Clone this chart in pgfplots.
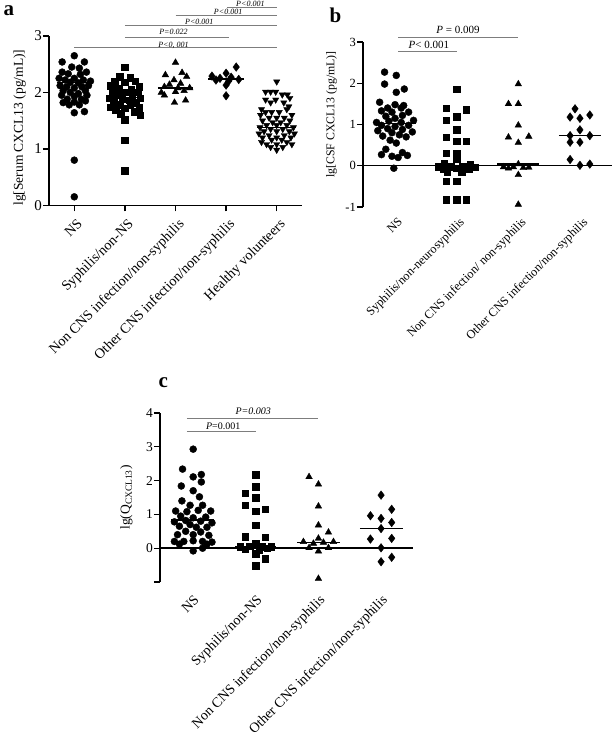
\documentclass[border=0pt]{standalone}
\usepackage{fontspec}
\setmainfont{Liberation Serif}
\usepackage{pgfplots}
\pgfplotsset{compat=1.18}
\definecolor{pgray}{RGB}{125,125,125}
\newcommand{\fs}[1]{\fontsize{#1}{#1}\selectfont}
\tikzset{pv/.style={pgray, line width=0.8pt}}
\pgfplotsset{
  gp/.style={
    scale only axis, clip=false,
    axis y line*=left, axis x line*=bottom,
    axis line style={line width=1.4pt, black},
    tick align=outside,
    major tick length=6pt,
    major tick style={line width=1.3pt, black},
    xtick={0,1,2,3,4},
    /pgf/number format/assume math mode=true,
    yticklabel style={inner sep=1pt},
    xticklabel style={rotate=45, anchor=north east, inner sep=1pt},
  },
  med/.style={black, line width=1.3pt, forget plot},
  circ/.style={only marks, mark=*, mark size=3.5pt, black},
  sq/.style={only marks, mark=square*, mark size=3.2pt, black},
  tri/.style={only marks, mark=triangle*, mark size=3.8pt, black},
  dia/.style={only marks, mark=diamond*, mark size=4.3pt, black},
  trid/.style={only marks, mark=triangle*, mark size=3.6pt, black, mark options={rotate=180}},
}
\begin{document}
\begin{tikzpicture}
\useasboundingbox (0,0) rectangle (614pt,737pt);
% ---------------- panel a ----------------
\node[font=\fs{21}\bfseries, anchor=base west] at (0pt,721pt) {a};
\begin{axis}[gp, at={(49pt,531.7pt)}, anchor=south west, width=253pt, height=169.3pt,
  xmin=-0.5, xmax=4.5, ymin=0, ymax=3, ytick={0,1,2,3},
  yticklabel style={font=\fs{15}}, xticklabel style={font=\fs{14.2}, yshift=-5pt, xshift=-2pt},
  ylabel style={font=\fs{13.5}, xshift=-7pt, yshift=4pt},
  xticklabels={NS, Syphilis/non-NS, Non CNS infection/non-syphilis, Other CNS infection/non-syphilis, Healthy volunteers},
  ylabel={lg[Serum CXCL13 (pg/mL)]}]
\addplot[circ] coordinates {(0,2.65) (-0.24,2.54) (0.2,2.54) (-0.05,2.45) (0.1,2.43) (-0.24,2.36) (0.24,2.36) (-0.12,2.33) (0.12,2.32) (-0.3,2.25) (-0.18,2.22) (0,2.25) (0.18,2.22) (0.32,2.2) (-0.08,2.18) (0.08,2.17) (-0.28,2.12) (0.28,2.12) (-0.15,2.1) (0.15,2.1) (0,2.08) (-0.22,2.03) (0.22,2.03) (-0.08,2.0) (0.08,1.98) (-0.25,1.95) (0.25,1.95) (0,1.93) (-0.14,1.88) (0.14,1.88) (-0.22,1.82) (0,1.83) (0.22,1.85) (-0.1,1.78) (0.1,1.78) (0,1.64) (0.2,1.66) (0,0.8) (0,0.15)};
\addplot[sq] coordinates {(1,2.45) (0.9,2.28) (1.1,2.26) (0.8,2.2) (1.2,2.2) (1,2.18) (0.72,2.12) (1.28,2.1) (0.88,2.08) (1.12,2.06) (0.75,2.02) (1.25,2.0) (1,2.0) (0.85,1.95) (1.15,1.95) (0.7,1.9) (1.3,1.9) (0.95,1.88) (1.08,1.86) (0.78,1.82) (1.22,1.82) (0.9,1.78) (1.1,1.78) (0.72,1.74) (1.28,1.73) (1,1.72) (0.82,1.68) (1.18,1.66) (0.92,1.62) (1.3,1.6) (1,1.52) (1,1.15) (1,0.61)};
\addplot[tri] coordinates {(2,2.53) (1.8,2.31) (2.13,2.35) (2.22,2.28) (1.97,2.22) (2.1,2.16) (1.88,2.14) (1.78,2.1) (2.05,2.08) (2.28,2.08) (1.72,2.0) (2,2.01) (2.17,2.03) (1.78,1.95) (1.98,1.82) (2.2,1.86)};
\addplot[dia] coordinates {(3.2,2.45) (2.72,2.29) (3,2.34) (2.88,2.25) (3.1,2.27) (2.8,2.22) (3.25,2.23) (3.05,2.2) (3,2.13) (3,1.94)};
\addplot[trid] coordinates {(4,2.19) (3.78,2.01) (3.88,2.01) (3.98,2.01) (4.11,1.96) (4.21,1.96) (4.26,1.9) (3.78,1.87) (3.98,1.87) (3.88,1.82) (4.14,1.82) (4.24,1.75) (3.7,1.7) (4.2,1.7) (3.78,1.65) (3.9,1.65) (4.05,1.65) (4.3,1.6) (3.68,1.6) (3.85,1.55) (4,1.55) (4.15,1.55) (3.72,1.5) (4.26,1.5) (3.92,1.47) (4.08,1.47) (3.8,1.42) (4.2,1.42) (4,1.42) (3.67,1.38) (4.33,1.38) (3.88,1.35) (4.12,1.35) (3.75,1.31) (4,1.31) (4.25,1.31) (3.65,1.27) (4.35,1.27) (3.85,1.24) (4.15,1.24) (3.72,1.2) (4,1.2) (4.28,1.2) (3.9,1.16) (4.1,1.16) (3.7,1.12) (4.2,1.12) (3.8,1.08) (4,1.08) (4.3,1.08) (3.88,1.03) (4.12,1.03) (4,0.98)};
\addplot[med] coordinates {(-0.35,2.17) (0.35,2.17)};
\addplot[med] coordinates {(0.65,1.91) (1.35,1.91)};
\addplot[med] coordinates {(1.65,2.08) (2.35,2.08)};
\addplot[med] coordinates {(2.65,2.24) (3.35,2.24)};
\addplot[med] coordinates {(3.62,1.38) (4.38,1.38)};
% p-values
\draw[pv] (axis cs:0,2.79) -- (axis cs:4,2.79);
\node[font=\fs{8}\itshape, anchor=base, inner sep=0pt] at (axis cs:1.96,2.8) {P<0, 001};
\draw[pv] (axis cs:1,2.98) -- (axis cs:3.05,2.98);
\node[font=\fs{8}\itshape, anchor=base, inner sep=0pt] at (axis cs:1.96,3.02) {P=0.022};
\draw[pv] (axis cs:1,3.18) -- (axis cs:4,3.18);
\node[font=\fs{8}\itshape, anchor=base, inner sep=0pt] at (axis cs:2.47,3.2) {P<0.001};
\draw[pv] (axis cs:2,3.36) -- (axis cs:4,3.36);
\node[font=\fs{8}\itshape, anchor=base, inner sep=0pt] at (axis cs:3.04,3.38) {P<0.001};
\draw[pv] (axis cs:3.02,3.5) -- (axis cs:4,3.5);
\node[font=\fs{8}\itshape, anchor=base, inner sep=0pt] at (axis cs:3.48,3.52) {P<0.001};
\end{axis}
% ---------------- panel b ----------------
\node[font=\fs{21}\bfseries, anchor=base west] at (326pt,714pt) {b};
\begin{axis}[gp, at={(363pt,530pt)}, anchor=south west, width=249pt, height=165pt,
  xmin=-0.52, xmax=3.52, ymin=-1, ymax=3, ytick={-1,0,1,2,3},
  yticklabel style={font=\fs{12.5}}, xticklabel style={font=\fs{12.3}, yshift=-3pt},
  ylabel style={font=\fs{11.8}, xshift=10pt, yshift=4pt},
  x axis line style={draw=none}, xtick style={draw=none},
  xticklabels={NS, Syphilis/non-neurosyphilis, Non CNS infection/ non-syphilis, Other CNS infection/non-syphilis},
  ylabel={lg[CSF CXCL13 (pg/mL)]}]
\draw[line width=1.4pt] (axis cs:-0.52,0) -- (axis cs:3.52,0);
\addplot[circ] coordinates {(-0.17,2.27) (0.02,2.19) (-0.17,1.98) (0.15,1.86) (0.02,1.78) (-0.25,1.54) (0.0,1.48) (0.14,1.46) (-0.12,1.4) (0.1,1.4) (-0.22,1.33) (0.22,1.3) (-0.05,1.3) (0.12,1.22) (-0.15,1.2) (0.3,1.1) (-0.3,1.05) (0.0,1.15) (-0.1,1.08) (0.1,1.05) (0.22,0.98) (-0.22,0.98) (0,0.95) (-0.12,0.9) (0.12,0.88) (-0.28,0.85) (0.28,0.82) (-0.05,0.8) (0.07,0.75) (-0.2,0.72) (0.18,0.7) (-0.08,0.62) (0.02,0.55) (-0.15,0.4) (0.12,0.32) (-0.22,0.27) (0.2,0.25) (-0.05,0.23) (0.05,0.2) (-0.02,-0.06)};
\addplot[sq] coordinates {(1,1.86) (0.83,1.40) (1.15,1.36) (0.83,1.11) (1,1.19) (1,0.87) (0.83,0.69) (1,0.59) (1.15,0.59) (0.83,0.31) (1,0.31) (1,0.16) (0.8,0.05) (1.22,0.03) (0.7,-0.02) (0.9,-0.02) (1.1,-0.02) (1.3,-0.03) (0.78,-0.08) (1,-0.06) (1.2,-0.08) (0.85,-0.14) (1.08,-0.14) (0.83,-0.38) (1,-0.38) (0.83,-0.82) (1,-0.82) (1.15,-0.82)};
\addplot[tri] coordinates {(2,1.98) (1.84,1.5) (2,1.5) (2,0.98) (1.84,0.69) (2.17,0.71) (2,0.56) (2,0.04) (1.76,-0.03) (1.84,-0.06) (1.92,-0.03) (2.08,-0.05) (2.17,-0.04) (2,-0.22) (2,-0.94)};
\addplot[dia] coordinates {(2.92,1.38) (2.84,1.18) (3,1.15) (3.16,1.23) (3,0.87) (2.84,0.73) (3.16,0.73) (2.84,0.57) (3,0.57) (2.84,0.15) (3,0.01) (3.16,0.04)};
\addplot[med] coordinates {(-0.34,1.02) (0.34,1.02)};
\addplot[med] coordinates {(0.66,-0.04) (1.34,-0.04)};
\addplot[med] coordinates {(1.66,0.04) (2.34,0.04)};
\addplot[med] coordinates {(2.66,0.73) (3.34,0.73)};
\draw[pv] (axis cs:0.05,3.1) -- (axis cs:2,3.1);
\node[font=\fs{11}, anchor=base, inner sep=0pt] at (axis cs:1.02,3.2) {\textit{P} = 0.009};
\draw[pv] (axis cs:0.05,2.76) -- (axis cs:1,2.76);
\node[font=\fs{11}, anchor=base, inner sep=0pt] at (axis cs:0.55,2.85) {\textit{P}< 0.001};
\end{axis}
% ---------------- panel c ----------------
\node[font=\fs{21}\bfseries, anchor=base west] at (155pt,349pt) {c};
\begin{axis}[gp, at={(160pt,155pt)}, anchor=south west, width=253pt, height=169pt,
  xmin=-0.53, xmax=3.51, ymin=-1, ymax=4, ytick={-1,0,1,2,3,4}, yticklabels={,0,1,2,3,4},
  yticklabel style={font=\fs{13.5}}, xticklabel style={font=\fs{14}, yshift=-3pt, xshift=-3pt},
  ylabel style={font=\fs{13.5}, yshift=9pt},
  x axis line style={draw=none}, xtick style={draw=none},
  xticklabels={NS, Syphilis/non-NS, Non CNS infection/non-syphilis, Other CNS infection/non-syphilis},
  ylabel={lg(Q\textsubscript{CXCL13})}]
\draw[line width=1.4pt] (axis cs:-0.53,0) -- (axis cs:3.51,0);
\addplot[circ] coordinates {(0,2.93) (-0.17,2.34) (0.13,2.18) (0,2.11) (0.13,1.96) (-0.19,1.84) (0,1.70) (0.1,1.52) (-0.18,1.40) (-0.05,1.27) (0.15,1.27) (-0.28,1.1) (0.28,1.1) (-0.1,1.08) (0.08,1.12) (-0.2,0.95) (0.2,0.92) (0,0.9) (-0.12,0.82) (0.12,0.8) (-0.3,0.78) (0.3,0.75) (-0.05,0.7) (0.05,0.62) (-0.22,0.65) (0.22,0.62) (-0.12,0.5) (0.12,0.48) (-0.25,0.4) (0.25,0.38) (0,0.4) (-0.3,0.2) (-0.15,0.2) (0,0.22) (0.15,0.2) (0.3,0.18) (-0.22,0.12) (0.22,0.12) (0,-0.08) (0.15,0.0)};
\addplot[sq] coordinates {(1,2.18) (1,1.82) (0.83,1.62) (1,1.49) (0.83,1.27) (1,1.10) (1.15,1.16) (1,0.68) (0.83,0.34) (1.15,0.32) (1,0.15) (0.75,0.05) (0.9,0.06) (1.1,0.04) (1.25,0.05) (0.83,-0.03) (1.05,-0.05) (1.18,0.0) (1,-0.16) (1.15,-0.31) (1,-0.52)};
\addplot[tri] coordinates {(1.85,2.11) (2,1.89) (2,1.24) (2,0.68) (2.16,0.47) (2,0.29) (1.76,0.19) (1.92,0.14) (2.08,0.17) (2.24,0.19) (1.85,0.01) (2,-0.09) (2.16,0.01) (2,-0.9)};
\addplot[dia] coordinates {(3,1.57) (2.83,0.96) (3,0.88) (3.17,1.15) (3.17,0.76) (3,0.58) (2.83,0.27) (3.17,0.29) (3,0.01) (3,-0.4) (3.17,-0.27)};
\addplot[med] coordinates {(-0.35,0.83) (0.33,0.83)};
\addplot[med] coordinates {(0.67,0.04) (1.33,0.04)};
\addplot[med] coordinates {(1.66,0.17) (2.34,0.17)};
\addplot[med] coordinates {(2.66,0.58) (3.35,0.58)};
\draw[pv] (axis cs:-0.1,3.85) -- (axis cs:2,3.85);
\node[font=\fs{10}\itshape, anchor=base, inner sep=0pt] at (axis cs:0.96,3.97) {P=0.003};
\draw[pv] (axis cs:-0.1,3.47) -- (axis cs:1,3.47);
\node[font=\fs{10}, anchor=base, inner sep=0pt] at (axis cs:0.48,3.5) {\textit{P}=0.001};
\end{axis}
\end{tikzpicture}
\end{document}
